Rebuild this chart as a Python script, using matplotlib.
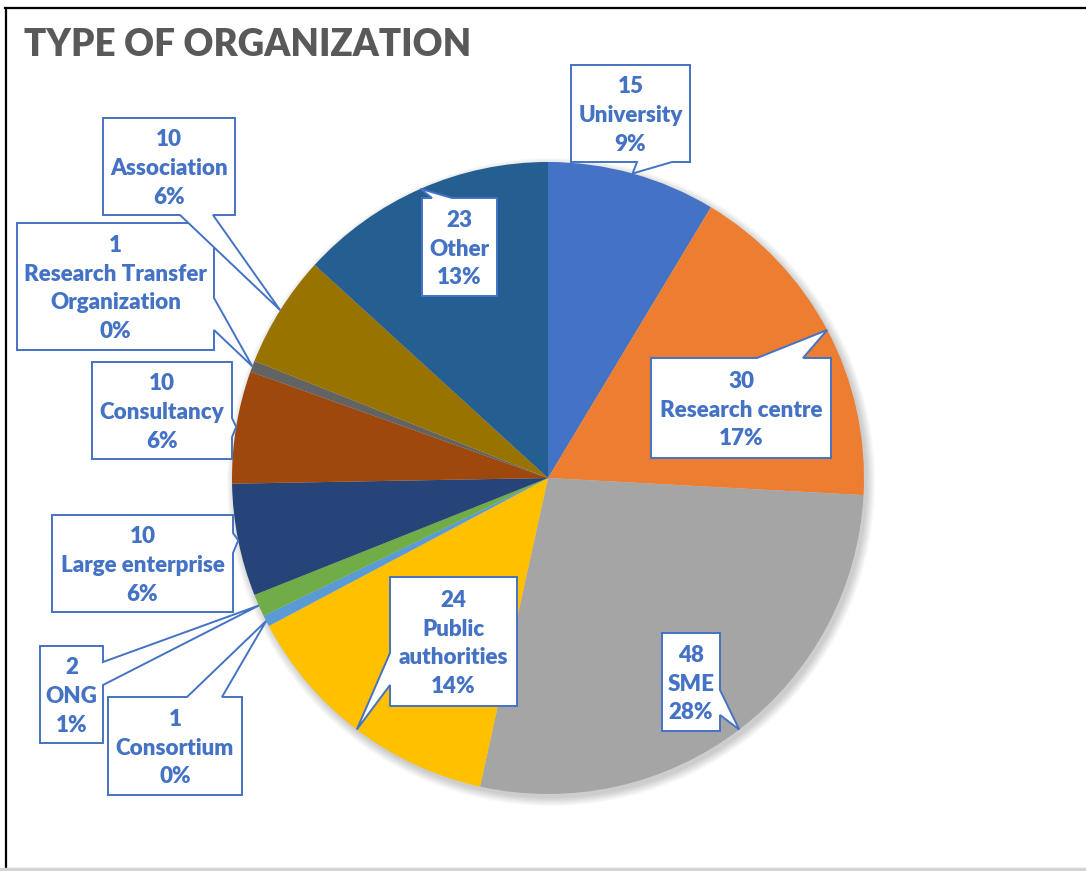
import matplotlib
matplotlib.use("Agg")
import matplotlib.pyplot as plt
from matplotlib.patches import Polygon, Circle
from matplotlib.lines import Line2D
import numpy as np

# ---------------- data ----------------
categories = ["University", "Research centre", "SME", "Public\nauthorities", "Consortium",
              "ONG", "Large enterprise", "Consultancy", "Research Transfer\nOrganization",
              "Association", "Other"]
values = [15, 30, 48, 24, 1, 2, 10, 10, 1, 10, 23]
pct_labels = ["9%", "17%", "28%", "14%", "0%", "1%", "6%", "6%", "0%", "6%", "13%"]
colors = ["#4472C4", "#ED7D31", "#A5A5A5", "#FFC000", "#5B9BD5", "#70AD47",
          "#264478", "#9E480E", "#636363", "#997300", "#255E91"]
title = "TYPE OF ORGANIZATION"

# ---------------- layout (pixel coords, y down) ----------------
W, H = 1086, 871
CX, CY, R = 548, 478, 316
# box (x0, y0, x1, y1), pointer side, pointer base (two coords along side)
callouts = [
    ((571, 65, 690, 162), "bottom", (637, 672)),
    ((651, 358, 831, 458), "top", (757, 803)),
    ((662, 633, 720, 731), "right", (690, 715)),
    ((390, 577, 517, 706), "left", (653, 685)),
    ((108, 697, 242, 795), "top", (187, 222)),
    ((40, 646, 103, 743), "right", (662, 685)),
    ((52, 515, 233, 612), "right", (533, 553)),
    ((92, 362, 232, 459), "right", (418, 437)),
    ((17, 223, 214, 350), "right", (298, 330)),
    ((103, 118, 235, 215), "bottom", (180, 213)),
    ((422, 198, 497, 296), "top", (432, 452)),
]
BLUE = "#4472C4"
FONT = ["Lato", "DejaVu Sans"]

fig = plt.figure(figsize=(W / 100, H / 100), dpi=100)
fig.patch.set_facecolor("white")
ax = fig.add_axes([0, 0, 1, 1])

# soft shadow
for i in range(10):
    ax.add_patch(Circle((CX + 3, CY + 4), R + i * 0.9, facecolor="black",
                        edgecolor="none", alpha=0.018, zorder=1))

wedges, _ = ax.pie(values, colors=colors, startangle=-90, counterclock=True,
                   center=(CX, CY), radius=R,
                   wedgeprops=dict(linewidth=0, zorder=2))
for w in wedges:
    w.set_zorder(2)

ax.set_xlim(0, W)
ax.set_ylim(H, 0)
ax.set_aspect("auto")
ax.axis("off")


def callout_poly(box, side, base, tip):
    x0, y0, x1, y1 = box
    b0, b1 = base
    pts = [(x0, y0)]
    if side == "top":
        pts += [(b0, y0), tip, (b1, y0)]
    pts += [(x1, y0)]
    if side == "right":
        pts += [(x1, b0), tip, (x1, b1)]
    pts += [(x1, y1)]
    if side == "bottom":
        pts += [(b1, y1), tip, (b0, y1)]
    pts += [(x0, y1)]
    if side == "left":
        pts += [(x0, b1), tip, (x0, b0)]
    return pts


for k, (w, (box, side, base)) in enumerate(zip(wedges, callouts)):
    th = np.deg2rad((w.theta1 + w.theta2) / 2)
    cx, cy = w.center
    tip = (cx + w.r * np.cos(th), cy + w.r * np.sin(th))
    poly = Polygon(callout_poly(box, side, base, tip), closed=True,
                   facecolor="white", edgecolor=BLUE, linewidth=1.4,
                   joinstyle="miter", zorder=5 + k)
    ax.add_patch(poly)
    x0, y0, x1, y1 = box
    txt = f"{values[k]}\n{categories[k]}\n{pct_labels[k]}"
    ax.text((x0 + x1) / 2, (y0 + y1) / 2 + 2, txt, ha="center", va="center",
            color=BLUE, fontsize=16.1, fontweight="heavy", family=FONT,
            linespacing=1.47, zorder=5.5 + k)

# title
ax.text(24, 45, title, ha="left", va="center", color="#595959",
        fontsize=26.5, fontweight="heavy", family=FONT, zorder=30)

# frame lines
fig.add_artist(Line2D([5.5 / W, 5.5 / W], [0, 1 - 8.5 / H], color="black",
                      linewidth=1.6, transform=fig.transFigure))
fig.add_artist(Line2D([5 / W, 1], [1 - 8.5 / H, 1 - 8.5 / H], color="black",
                      linewidth=1.6, transform=fig.transFigure))
fig.add_artist(Line2D([0, 1], [1 - 869 / H, 1 - 869 / H], color="#d4d4d4",
                      linewidth=2.5, transform=fig.transFigure))

fig.savefig("out.png", dpi=100, facecolor="white")
